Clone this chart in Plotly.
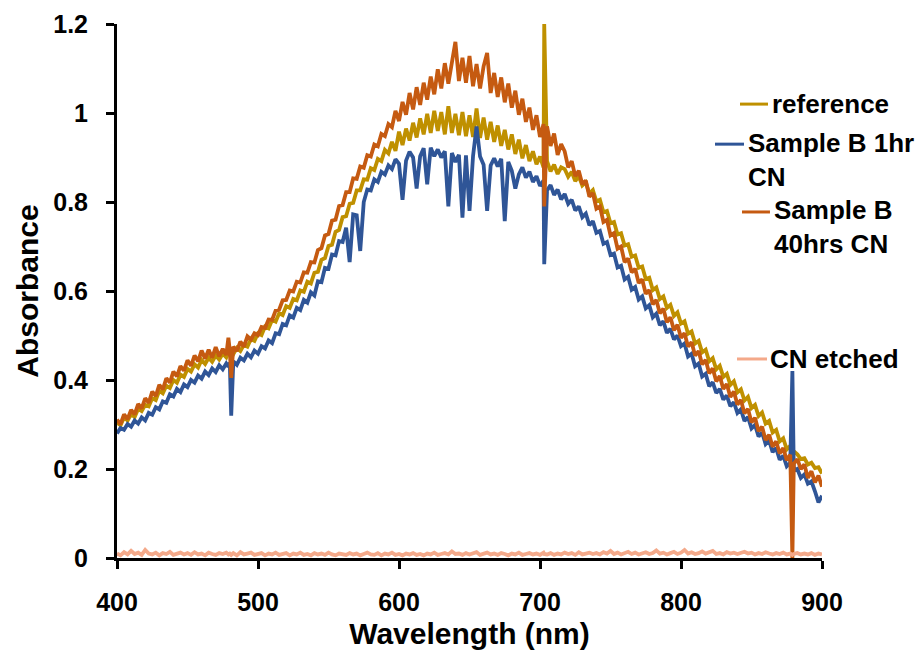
import plotly.graph_objects as go

# Wavelength sampling grid (nm); extra points at the narrow spikes (479, 481, 703, 879)
WAVELENGTH_NM = [
    400, 402.5, 405, 407.5, 410, 412.5, 415, 417.5, 420, 422.5,
    425, 427.5, 430, 432.5, 435, 437.5, 440, 442.5, 445, 447.5,
    450, 452.5, 455, 457.5, 460, 462.5, 465, 467.5, 470, 472.5,
    475, 477.5, 479, 480, 481, 482.5, 485, 487.5, 490, 492.5,
    495, 497.5, 500, 502.5, 505, 507.5, 510, 512.5, 515, 517.5,
    520, 522.5, 525, 527.5, 530, 532.5, 535, 537.5, 540, 542.5,
    545, 547.5, 550, 552.5, 555, 557.5, 560, 562.5, 565, 567.5,
    570, 572.5, 575, 577.5, 580, 582.5, 585, 587.5, 590, 592.5,
    595, 597.5, 600, 602.5, 605, 607.5, 610, 612.5, 615, 617.5,
    620, 622.5, 625, 627.5, 630, 632.5, 635, 637.5, 640, 642.5,
    645, 647.5, 650, 652.5, 655, 657.5, 660, 662.5, 665, 667.5,
    670, 672.5, 675, 677.5, 680, 682.5, 685, 687.5, 690, 692.5,
    695, 697.5, 700, 702.5, 703, 705, 707.5, 710, 712.5, 715,
    717.5, 720, 722.5, 725, 727.5, 730, 732.5, 735, 737.5, 740,
    742.5, 745, 747.5, 750, 752.5, 755, 757.5, 760, 762.5, 765,
    767.5, 770, 772.5, 775, 777.5, 780, 782.5, 785, 787.5, 790,
    792.5, 795, 797.5, 800, 802.5, 805, 807.5, 810, 812.5, 815,
    817.5, 820, 822.5, 825, 827.5, 830, 832.5, 835, 837.5, 840,
    842.5, 845, 847.5, 850, 852.5, 855, 857.5, 860, 862.5, 865,
    867.5, 870, 872.5, 875, 877.5, 879, 880, 882.5, 885, 887.5,
    890, 892.5, 895, 897.5, 900,
]

REFERENCE = [
    .304, .298, .316, .309, .323, .317, .335, .330, .344, .341,
    .359, .355, .376, .370, .387, .382, .400, .394, .412, .407,
    .425, .419, .435, .428, .445, .436, .450, .441, .455, .446,
    .459, .451, .462, .455, .463, .458, .472, .465, .479, .475,
    .492, .488, .505, .501, .520, .516, .535, .531, .550, .546,
    .566, .562, .582, .579, .601, .598, .621, .617, .641, .643,
    .670, .674, .701, .704, .733, .737, .766, .768, .796, .798,
    .826, .826, .851, .850, .876, .872, .897, .892, .917, .909,
    .935, .915, .958, .928, .965, .938, .978, .945, .988, .952,
    .998, .955, 1.005, .960, 1.002, .952, 1.015, .955, .998, .950,
    1.002, .948, .995, .946, 1.010, .944, .990, .940, .980, .935,
    .972, .926, .962, .918, .952, .908, .940, .898, .928, .892,
    .914, .885, .902, .878, 1.200, .892, .869, .884, .863, .878,
    .874, .857, .868, .847, .858, .837, .844, .819, .827, .801,
    .805, .777, .780, .752, .755, .727, .730, .702, .705, .677,
    .680, .652, .655, .627, .630, .602, .608, .582, .588, .562,
    .569, .544, .552, .527, .532, .504, .509, .482, .488, .462,
    .468, .442, .449, .424, .432, .407, .414, .389, .397, .372,
    .379, .354, .362, .337, .344, .319, .327, .302, .308, .282,
    .288, .262, .269, .244, .252, .236, .240, .233, .222, .224,
    .210, .214, .202, .204, .190,
]

SAMPLE_B_1HR = [
    .280, .292, .288, .301, .295, .309, .302, .316, .309, .326,
    .322, .339, .334, .352, .349, .368, .363, .380, .373, .390,
    .384, .400, .394, .410, .403, .419, .411, .426, .418, .433,
    .424, .437, .430, .439, .320, .442, .434, .450, .444, .459,
    .451, .466, .459, .476, .471, .489, .483, .505, .503, .526,
    .523, .545, .540, .562, .557, .580, .574, .597, .590, .622,
    .620, .652, .650, .682, .680, .712, .710, .742, .665, .772,
    .770, .690, .800, .828, .826, .851, .845, .868, .862, .882,
    .874, .896, .886, .805, .893, .913, .900, .830, .903, .921,
    .840, .922, .903, .918, .900, .914, .790, .910, .890, .906,
    .765, .905, .780, .903, .970, .902, .884, .780, .882, .898,
    .880, .897, .757, .890, .870, .830, .862, .878, .855, .868,
    .845, .858, .836, .848, .660, .826, .838, .816, .828, .806,
    .818, .796, .805, .781, .790, .766, .774, .748, .757, .731,
    .735, .706, .710, .681, .684, .653, .657, .626, .632, .603,
    .609, .581, .588, .561, .568, .541, .549, .523, .532, .506,
    .515, .491, .500, .476, .482, .453, .459, .431, .437, .408,
    .414, .386, .395, .371, .380, .356, .365, .341, .350, .326,
    .334, .308, .317, .291, .299, .273, .282, .256, .264, .238,
    .247, .221, .230, .206, .214, .420, .196, .200, .180, .188,
    .167, .172, .150, .125, .140,
]

SAMPLE_B_40HRS = [
    .311, .301, .323, .312, .333, .323, .346, .336, .359, .349,
    .374, .364, .389, .379, .404, .394, .419, .408, .431, .421,
    .444, .432, .455, .442, .466, .448, .468, .450, .474, .453,
    .470, .456, .495, .466, .405, .475, .465, .486, .475, .498,
    .491, .505, .501, .519, .517, .536, .535, .556, .558, .579,
    .580, .601, .599, .621, .619, .642, .641, .665, .664, .692,
    .696, .725, .728, .758, .760, .791, .793, .822, .822, .853,
    .852, .880, .877, .905, .902, .929, .925, .953, .948, .975,
    .968, 1.005, .982, 1.025, .996, 1.045, 1.008, 1.058, 1.018, 1.068,
    1.030, 1.082, 1.042, 1.098, 1.055, 1.112, 1.066, 1.118, 1.160, 1.072,
    1.124, 1.068, 1.128, 1.060, 1.110, 1.055, 1.105, 1.135, 1.045, 1.090,
    1.036, 1.080, 1.024, 1.066, 1.012, 1.050, .996, 1.032, .980, 1.012,
    .962, .995, .946, .975, .790, .970, .926, .954, .906, .930,
    .914, .878, .892, .858, .870, .840, .848, .812, .820, .785,
    .790, .755, .760, .725, .730, .695, .700, .665, .673, .642,
    .650, .618, .626, .594, .602, .570, .580, .550, .560, .530,
    .541, .512, .524, .495, .505, .475, .485, .455, .465, .435,
    .445, .415, .426, .397, .409, .380, .391, .362, .374, .345,
    .355, .325, .335, .305, .315, .285, .295, .265, .277, .250,
    .262, .235, .247, .220, .232, .000, .212, .222, .200, .210,
    .180, .195, .170, .185, .160,
]

CN_ETCHED = [
    .010, .006, .013, .008, .016, .009, .012, .007, .018, .010,
    .008, .012, .006, .011, .009, .014, .007, .010, .012, .008,
    .011, .007, .013, .008, .010, .006, .012, .009, .007, .011,
    .009, .012, .008, .010, .007, .011, .006, .013, .008, .010,
    .012, .007, .009, .011, .006, .010, .008, .012, .007, .009,
    .011, .006, .010, .008, .012, .007, .009, .006, .011, .008,
    .010, .007, .012, .008, .006, .010, .009, .007, .011, .008,
    .010, .006, .009, .012, .008, .007, .011, .006, .010, .008,
    .012, .007, .009, .006, .010, .008, .011, .007, .009, .006,
    .010, .008, .012, .007, .009, .011, .008, .015, .009, .010,
    .007, .011, .008, .010, .013, .007, .009, .012, .008, .010,
    .007, .011, .009, .006, .010, .008, .012, .007, .009, .011,
    .008, .010, .007, .012, .009, .008, .011, .007, .010, .008,
    .012, .009, .011, .007, .013, .008, .010, .012, .009, .011,
    .008, .013, .010, .016, .009, .012, .008, .011, .014, .009,
    .012, .008, .010, .013, .009, .011, .017, .010, .012, .008,
    .011, .014, .009, .012, .018, .010, .013, .009, .011, .015,
    .010, .012, .016, .009, .011, .008, .013, .010, .012, .009,
    .011, .014, .010, .012, .008, .011, .009, .013, .010, .008,
    .011, .009, .012, .008, .010, .007, .009, .011, .008, .010,
    .008, .011, .007, .010, .008,
]

SERIES_NAMES = ["reference", "Sample B 1hr<br>CN", "Sample B<br>40hrs CN", "CN etched"]
SERIES_COLORS = ["#BF9000", "#2F5597", "#C55A11", "#F4A98A"]

X_TICKS = [400, 500, 600, 700, 800, 900]
Y_TICKS = [0, 0.2, 0.4, 0.6, 0.8, 1.0, 1.2]
Y_TICK_TEXT = ["0", "0.2", "0.4", "0.6", "0.8", "1", "1.2"]

FONT = "Liberation Sans, Arial, sans-serif"

fig = go.Figure()
for name, ys, color in zip(SERIES_NAMES,
                           [REFERENCE, SAMPLE_B_1HR, SAMPLE_B_40HRS, CN_ETCHED],
                           SERIES_COLORS):
    fig.add_trace(go.Scatter(x=WAVELENGTH_NM, y=ys, mode="lines", name=name,
                             line=dict(color=color, width=3.8), showlegend=False))

# Manual legend (irregular spacing as in the original), paper coordinates
legend_items = [
    (0.8837, 0.9234, 0.850, 0.9262, 0.850),
    (0.8482, 0.8894, 0.775, 0.8922, 0.746),
    (0.8865, 0.9262, 0.648, 0.9291, 0.619),
    (0.8794, 0.9220, 0.3727, 0.9234, 0.3727),
]
for (lx0, lx1, ly, tx, ty), text, color in zip(legend_items, SERIES_NAMES, SERIES_COLORS):
    fig.add_shape(type="line", xref="paper", yref="paper", x0=lx0, x1=lx1, y0=ly, y1=ly,
                  line=dict(color=color, width=3))
    fig.add_annotation(xref="paper", yref="paper", x=tx, y=ty, text=text, showarrow=False,
                       xanchor="left", yanchor="middle", align="left",
                       font=dict(family=FONT, size=26, color="black", weight="bold"))

axis_common = dict(showline=True, linecolor="black", linewidth=3, ticks="outside",
                   ticklen=8, tickwidth=3, tickcolor="black", showgrid=False, zeroline=False,
                   tickfont=dict(family=FONT, size=25, color="black", weight="bold"))

fig.update_layout(
    width=916, height=646,
    margin=dict(l=109, r=102, t=16, b=96, autoexpand=False),
    paper_bgcolor="white", plot_bgcolor="white",
    showlegend=False,
    xaxis=dict(range=[400, 900], tickvals=X_TICKS, ticklabelstandoff=12,
               title=dict(text="Wavelength (nm)", standoff=8,
                          font=dict(family=FONT, size=30, color="black", weight="bold")),
               **axis_common),
    yaxis=dict(range=[0, 1.2], tickvals=Y_TICKS, ticktext=Y_TICK_TEXT, ticklabelstandoff=13,
               title=dict(text="Absorbance", standoff=6,
                          font=dict(family=FONT, size=30, color="black", weight="bold")),
               **axis_common),
)

fig.write_html("out.html")
